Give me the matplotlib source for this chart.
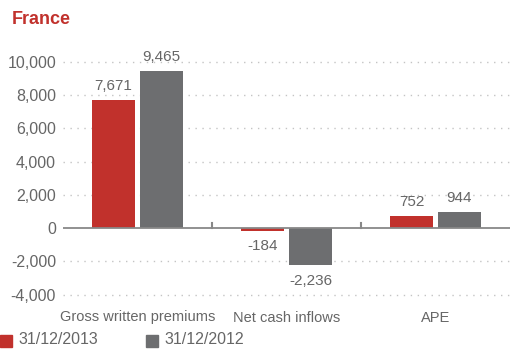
import matplotlib
matplotlib.use("Agg")
import matplotlib.pyplot as plt
from matplotlib.patches import Rectangle
import numpy as np

categories = ["Gross written premiums", "Net cash inflows", "APE"]
series_names = ["31/12/2013", "31/12/2012"]
values_2013 = [7671, -184, 752]
values_2012 = [9465, -2236, 944]
yticks = [-4000, -2000, 0, 2000, 4000, 6000, 8000, 10000]

RED = "#C1312C"
GRAY = "#6D6E70"
TEXT = "#666666"

plt.rcParams["font.family"] = ["Liberation Sans", "DejaVu Sans"]

fig = plt.figure(figsize=(5.12, 3.5), dpi=100)
ax = fig.add_axes([63 / 512, 1 - 298 / 350, 447 / 512, (298 - 55) / 350])

x = np.arange(len(categories))
w = 0.29
off = 0.161
b1 = ax.bar(x - off, values_2013, w, color=RED, zorder=3)
b2 = ax.bar(x + off, values_2012, w, color=GRAY, zorder=3)

ax.set_xlim(-0.5, 2.5)
ax.set_ylim(-4200, 10400)
ax.set_yticks(yticks)
ax.set_yticklabels([f"{v:,}" for v in yticks])
ax.tick_params(axis="y", length=0, pad=5, labelsize=11.5, labelcolor=TEXT)
ax.tick_params(axis="x", length=0, pad=9, labelsize=10.5, labelcolor=TEXT)
ax.set_xticks(x)
ax.set_xticklabels(categories)

for s in ax.spines.values():
    s.set_visible(False)

for v in yticks:
    if v != 0:
        ax.axhline(v, color="#C4C4C4", lw=1, ls=(0, (1, 4)), zorder=1)
ax.axhline(0, color="#888888", lw=1.3, zorder=4)

# small separators between category groups
for sep in [0.5, 1.5]:
    ax.plot([sep, sep], [0, 300], color="#888888", lw=1.5, zorder=4)

def label(bars, vals):
    for b, v in zip(bars, vals):
        cx = b.get_x() + b.get_width() / 2
        if v >= 0:
            ax.text(cx, v + 420, f"{v:,}", ha="center", va="bottom",
                    fontsize=11, color=TEXT)
        else:
            ax.text(cx, v - 500, f"{v:,}", ha="center", va="top",
                    fontsize=11, color=TEXT)

label(b1, values_2013)
label(b2, values_2012)

fig.text(12 / 512, 1 - 19 / 350, "France", color=RED, fontsize=13,
         fontweight="bold", ha="left", va="center")

# legend along the bottom edge
for i, (name, col) in enumerate(zip(series_names, [RED, GRAY])):
    x0 = [0, 146][i]
    fig.patches.append(Rectangle((x0 / 512, 1 - 347 / 350), 12 / 512, 12 / 350,
                                 transform=fig.transFigure, color=col))
    fig.text((x0 + 18) / 512, 1 - 340 / 350, name, color=TEXT, fontsize=11.5,
             ha="left", va="center")

fig.savefig("out.png", dpi=100)
